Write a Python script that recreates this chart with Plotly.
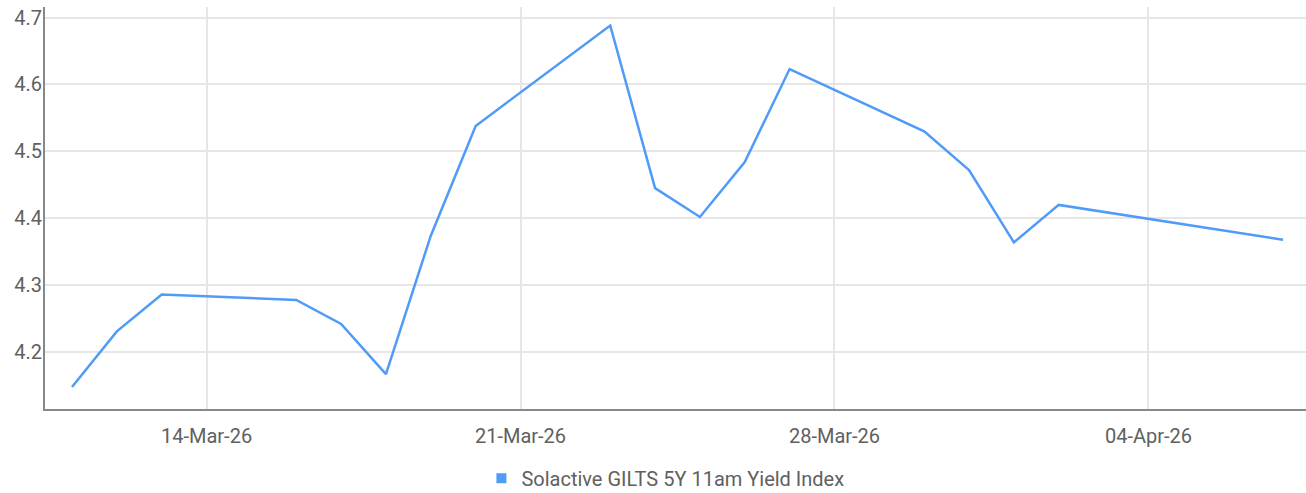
import plotly.graph_objects as go

dates = ["2026-03-11", "2026-03-12", "2026-03-13", "2026-03-16", "2026-03-17",
         "2026-03-18", "2026-03-19", "2026-03-20", "2026-03-23", "2026-03-24",
         "2026-03-25", "2026-03-26", "2026-03-27", "2026-03-30", "2026-03-31",
         "2026-04-01", "2026-04-02", "2026-04-07"]
values = [4.148, 4.231, 4.286, 4.278, 4.242, 4.167, 4.374, 4.538, 4.688, 4.445,
          4.402, 4.484, 4.623, 4.530, 4.472, 4.364, 4.420, 4.368]
series_name = "Solactive GILTS 5Y 11am Yield Index"
line_color = "#4f9bf7"

fig = go.Figure()
fig.add_trace(go.Scatter(x=dates, y=values, mode="lines", name=series_name,
                         line=dict(color=line_color, width=2.5), showlegend=False))
fig.add_trace(go.Scatter(x=[None], y=[None], mode="markers", name=series_name,
                         marker=dict(symbol="square", size=10, color=line_color),
                         showlegend=True))

font_family = "Roboto, sans-serif"
fig.update_layout(
    width=1306, height=493,
    margin=dict(l=45, r=0, t=7, b=84, autoexpand=False),
    plot_bgcolor="white", paper_bgcolor="white",
    font=dict(family=font_family, size=20, color="#606060"),
    legend=dict(orientation="h", x=0.492, xanchor="center", y=-0.124, yanchor="top",
                font=dict(size=20, color="#606060"), itemwidth=30),
    xaxis=dict(
        type="date", automargin=False,
        range=["2026-03-10 09:33", "2026-04-07 12:19"],
        tick0="2026-03-14", dtick=7 * 24 * 3600 * 1000, tickformat="%d-%b-%y",
        showgrid=True, gridcolor="#e6e6e6", gridwidth=2,
        showline=True, linecolor="#888888", linewidth=2,
        ticks="", ticklen=0, ticklabelstandoff=8,
        zeroline=False,
    ),
    yaxis=dict(
        automargin=False,
        range=[4.115, 4.7157],
        tick0=4.2, dtick=0.1, tickformat=".1f",
        showgrid=True, gridcolor="#e6e6e6", gridwidth=2,
        showline=True, linecolor="#888888", linewidth=2,
        ticks="", ticklen=0, ticklabelstandoff=-3,
        zeroline=False,
    ),
)

fig.write_html("out.html", config={"displayModeBar": False},
               post_script="document.body.style.margin='0';")
